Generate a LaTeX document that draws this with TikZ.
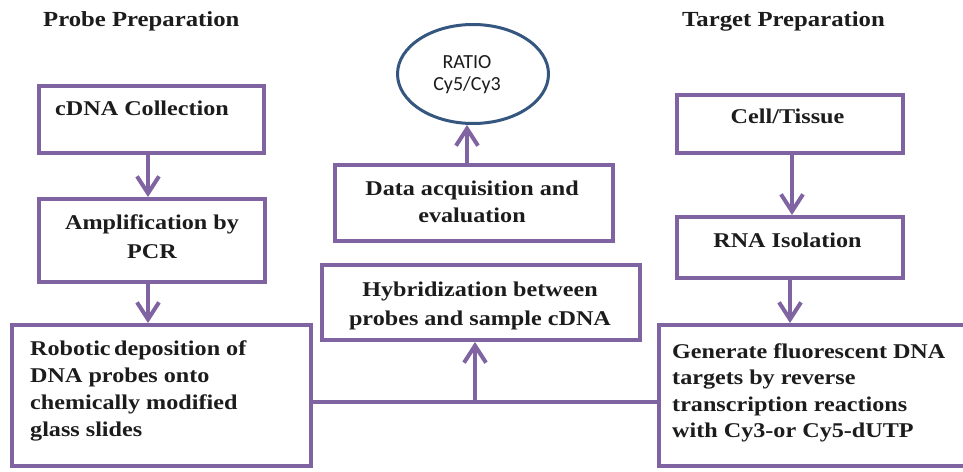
\documentclass[tikz,border=0pt]{standalone}
\usepackage{fontspec}
\setmainfont{Liberation Serif}[FakeStretch=1.15]
\newfontfamily\ratiofont{Carlito}
\usetikzlibrary{arrows.meta,shapes.geometric}
\definecolor{boxpurple}{HTML}{8064A2}
\definecolor{ovalblue}{HTML}{34567F}
\definecolor{inktext}{HTML}{1C1C1C}

\begin{document}
\begin{tikzpicture}[x=1pt,y=-1pt,
  box/.style={draw=boxpurple, line width=4pt, fill=white, rectangle, inner sep=0pt},
  lbl/.style={font=\fontsize{21}{27}\selectfont\bfseries, text=inktext, inner sep=0pt},
  ttl/.style={font=\fontsize{21.5}{26}\selectfont\bfseries, text=inktext, inner sep=0pt},
  flow/.style={draw=boxpurple, line width=4pt},
  arr/.style={flow, -{Straight Barb[length=17pt,width=22pt,line join=miter]}}
]
\useasboundingbox (0,0) rectangle (963,471);
\clip (0,0) rectangle (963,471);
\fill[white] (0,0) rectangle (963,471);

% section headings
\node[ttl, anchor=base west] (probehead) at (43,27) {Probe Preparation};
\node[ttl, anchor=base west] (targethead) at (682,27) {Target Preparation};

% probe side (multi-line labels are placed by the baseline of their last line)
\node[box, minimum width=225pt, minimum height=67pt] (cdna) at (151.5,119.5) {};
\node[lbl, anchor=base west] (cdnatxt) at (55,115) {cDNA Collection};

\node[box, minimum width=226pt, minimum height=83pt] (amp) at (152,240.5) {};
\node[lbl, anchor=base, align=center] (amptxt) at (152,258) {Amplification by\\[2pt]PCR};

\node[box, minimum width=299pt, minimum height=141pt] (robo) at (161.5,395.5) {};
\node[lbl, anchor=base west, align=left] (robotxt) at (30,436)
  {Robotic\,deposition of\\DNA probes onto\\chemically modified\\glass slides};

% target side
\node[box, minimum width=226pt, minimum height=58pt] (cell) at (790,124) {};
\node[lbl, anchor=base] (celltxt) at (787.5,123) {Cell/Tissue};

\node[box, minimum width=226pt, minimum height=61pt] (rna) at (790,247.5) {};
\node[lbl, anchor=base] (rnatxt) at (787.5,247) {RNA Isolation};

\node[box, minimum width=316pt, minimum height=141pt] (gen) at (817,395.5) {};
\node[lbl, font=\fontsize{21}{26.5}\selectfont\bfseries, anchor=base west, align=left]
  (gentxt) at (672,437.5)
  {Generate fluorescent DNA\\targets by reverse\\transcription reactions\\with Cy3-or Cy5-dUTP};

% centre column
\node[box, minimum width=318pt, minimum height=75pt] (hyb) at (481,302.5) {};
\node[lbl, anchor=base, align=center] (hybtxt) at (480,325)
  {Hybridization between\\[2pt]probes and sample cDNA};

\node[box, minimum width=278pt, minimum height=76pt] (data) at (474,203) {};
\node[lbl, anchor=base, align=center] (datatxt) at (472,222)
  {Data acquisition and\\evaluation};

\node[ellipse, draw=ovalblue, line width=3pt, fill=white,
      minimum width=151pt, minimum height=99pt, inner sep=0pt] (ratio) at (473,74) {};
\node[font=\ratiofont\fontsize{20}{22}\selectfont, text=inktext, anchor=base,
      align=center, inner sep=0pt] (ratiotxt) at (467,90) {RATIO\\Cy5/Cy3};

% x positions of the vertical connectors
\coordinate (leftx) at (148,0);
\coordinate (cellx) at (792,0);
\coordinate (rnax) at (790,0);
\coordinate (datax) at (467,0);

% connectors
\draw[arr] (cdna.south -| leftx) -- (amp.north -| leftx);
\draw[arr] (amp.south -| leftx) -- (robo.north -| leftx);
\draw[arr] (cell.south -| cellx) -- (rna.north -| cellx);
\draw[arr] (rna.south -| rnax) -- (gen.north -| rnax);

\coordinate (join) at (475,402);
\draw[flow] (robo.east |- join) -- (gen.west |- join);
\draw[arr] (join) -- (hyb.south -| join);
\draw[arr] (data.north -| datax) -- (ratio.south -| datax);
\end{tikzpicture}
\end{document}
